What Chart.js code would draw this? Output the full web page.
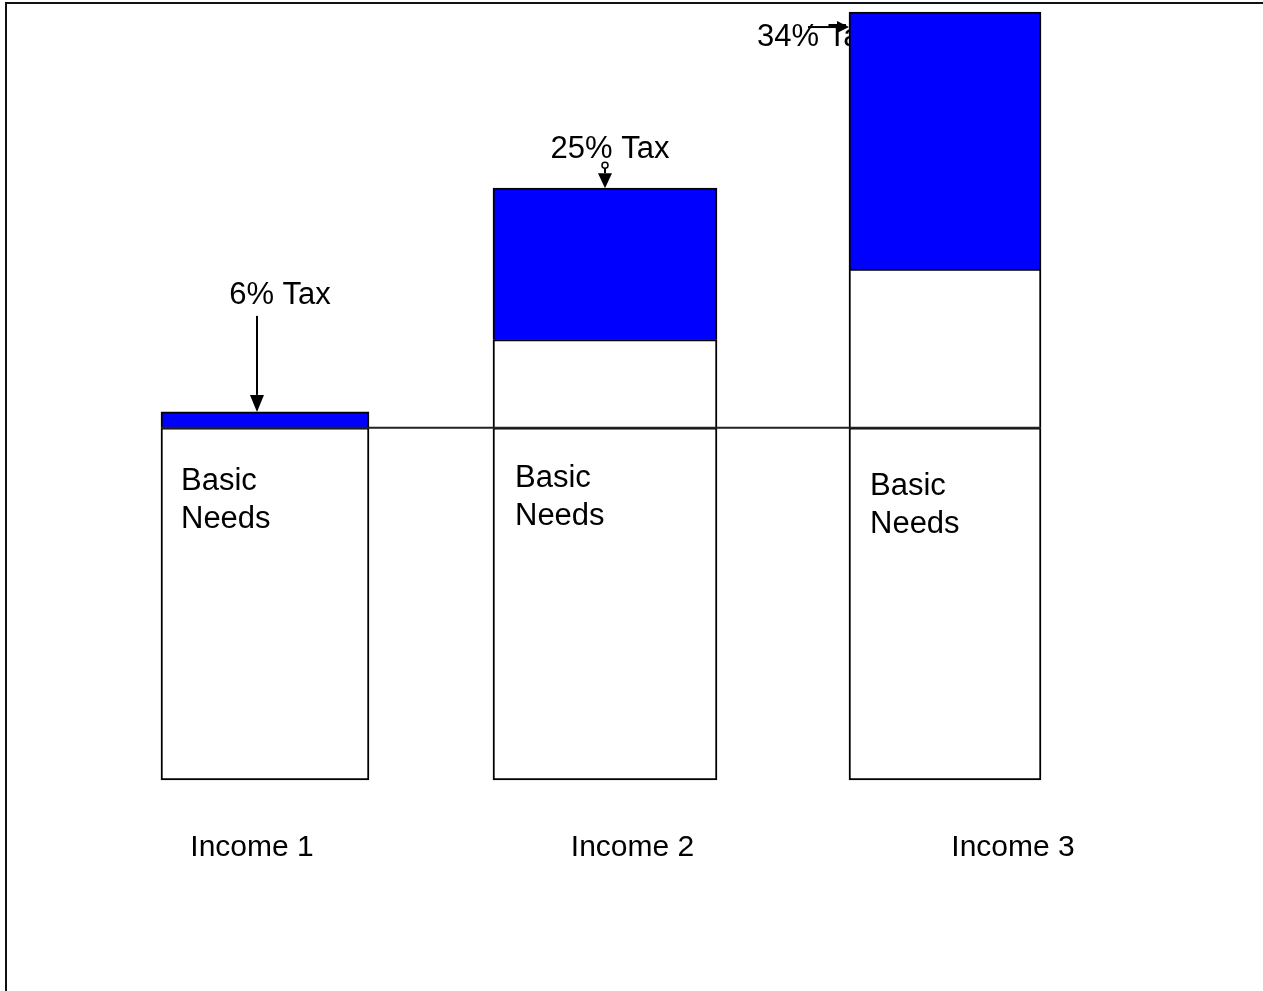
<!DOCTYPE html>
<html>
<head>
<meta charset="utf-8">
<script src="https://cdn.jsdelivr.net/npm/chart.js@4.4.0/dist/chart.umd.min.js"></script>
<style>
  body { margin: 0; background: #fff; overflow: hidden; }
  #wrap { position: relative; width: 1263px; height: 991px; }
  #frame { position: absolute; left: 5px; top: 2px; right: 0; bottom: 0;
           border-left: 2px solid #111; border-top: 2px solid #111; pointer-events: none; }
  canvas { position: absolute; left: 0; top: 0; }
</style>
</head>
<body>
<div id="wrap">
  <canvas id="taxChart" width="1263" height="991"></canvas>
  <div id="frame"></div>
</div>
<script>
const categories = ['Income 1', 'Income 2', 'Income 3'];
const basicNeeds = [100, 100, 100];
const otherSpending = [0, 25, 45];
const taxes = [4.5, 43, 73];
const taxLabels = ['6% Tax', '25% Tax', '34% Tax'];

const barWidths = [208, 224, 192];
const FONT = '"Liberation Sans", Arial, Helvetica, sans-serif';

// one dataset per segment so every bar can have its own width
const datasets = [];
categories.forEach((cat, i) => {
  const segs = [
    { kind: 'basic', value: basicNeeds[i], color: '#ffffff', skip: false },
    { kind: 'other', value: otherSpending[i], color: '#ffffff', skip: 'start' },
    { kind: 'tax', value: taxes[i], color: '#0000ff', skip: 'start' }
  ];
  segs.forEach(s => {
    if (!s.value) return;
    datasets.push({
      label: cat + ' ' + s.kind,
      kind: s.kind,
      bar: i,
      data: [{ x: i + 1, y: s.value }],
      xAxisID: 'xb',
      backgroundColor: s.color,
      borderColor: '#000',
      borderWidth: 2,
      borderSkipped: s.skip,
      barThickness: barWidths[i],
      clip: false
    });
  });
});

function findBar(chart, kind, i) {
  for (let k = 0; k < chart.data.datasets.length; k++) {
    const ds = chart.data.datasets[k];
    if (ds.kind === kind && ds.bar === i) {
      return chart.getDatasetMeta(k).data[0].getProps(['x', 'y', 'base', 'width'], true);
    }
  }
  return null;
}

function arrow(ctx, x1, y1, x2, y2, len, half) {
  const ang = Math.atan2(y2 - y1, x2 - x1);
  const bx = x2 - len * Math.cos(ang), by = y2 - len * Math.sin(ang);
  ctx.beginPath();
  ctx.moveTo(x1, y1);
  ctx.lineTo(bx, by);
  ctx.stroke();
  ctx.beginPath();
  ctx.moveTo(x2, y2);
  ctx.lineTo(bx + half * Math.sin(ang), by - half * Math.cos(ang));
  ctx.lineTo(bx - half * Math.sin(ang), by + half * Math.cos(ang));
  ctx.closePath();
  ctx.fill();
}

const annotations = {
  id: 'annotations',
  beforeDatasetsDraw(chart) {
    // third label sits behind the tallest bar
    const ctx = chart.ctx;
    const t3 = findBar(chart, 'tax', 2);
    ctx.save();
    ctx.fillStyle = '#000';
    ctx.font = '31px ' + FONT;
    ctx.textAlign = 'left';
    ctx.textBaseline = 'alphabetic';
    ctx.fillText(taxLabels[2], t3.x - t3.width / 2 - 92, t3.y + 34);
    ctx.restore();
  },
  afterDatasetsDraw(chart) {
    const ctx = chart.ctx;
    const yScale = chart.scales.y;
    ctx.save();
    ctx.fillStyle = '#000';
    ctx.strokeStyle = '#000';
    ctx.lineWidth = 2;

    // basic needs level line across all bars
    const first = findBar(chart, 'basic', 0);
    const last = findBar(chart, 'basic', categories.length - 1);
    const lvl = yScale.getPixelForValue(basicNeeds[0]);
    ctx.strokeStyle = '#222';
    ctx.beginPath();
    ctx.moveTo(first.x - first.width / 2, lvl);
    ctx.lineTo(last.x + last.width / 2, lvl);
    ctx.stroke();
    ctx.strokeStyle = '#000';

    // "Basic Needs" inside each bar
    ctx.font = '31px ' + FONT;
    ctx.textAlign = 'left';
    ctx.textBaseline = 'alphabetic';
    const dy = [62, 59, 67];
    const dx = [20, 22, 21];
    categories.forEach((c, i) => {
      const b = findBar(chart, 'basic', i);
      const left = b.x - b.width / 2 + dx[i];
      ctx.fillText('Basic', left, b.y + dy[i]);
      ctx.fillText('Needs', left, b.y + dy[i] + 38);
    });

    // tax labels and arrows
    ctx.textAlign = 'center';
    const t1 = findBar(chart, 'tax', 0);
    ctx.fillText(taxLabels[0], t1.x + 15, t1.y - 108);
    arrow(ctx, t1.x - 8, t1.y - 96, t1.x - 8, t1.y, 17, 7);

    const t2 = findBar(chart, 'tax', 1);
    ctx.fillText(taxLabels[1], t2.x + 5, t2.y - 30);
    ctx.beginPath();
    ctx.arc(t2.x, t2.y - 23, 3, 0, Math.PI * 2);
    ctx.lineWidth = 1.5;
    ctx.stroke();
    ctx.lineWidth = 2;
    arrow(ctx, t2.x, t2.y - 20, t2.x, t2.y, 15, 7);

    const t3 = findBar(chart, 'tax', 2);
    const l3 = t3.x - t3.width / 2;
    arrow(ctx, l3 - 41, t3.y + 15, l3, t3.y + 15, 12, 6);
    ctx.restore();
  }
};

new Chart(document.getElementById('taxChart'), {
  type: 'bar',
  data: { labels: categories, datasets: datasets },
  options: {
    responsive: false,
    animation: false,
    devicePixelRatio: 1,
    layout: { padding: { left: 252, right: 250, top: 5, bottom: 75 } },
    plugins: { legend: { display: false }, tooltip: { enabled: false } },
    scales: {
      x: {
        type: 'category',
        offset: false,
        grid: { display: false, drawTicks: false },
        border: { display: false },
        ticks: { color: '#000', padding: 50, font: { family: FONT, size: 30 } }
      },
      xb: {
        type: 'linear',
        display: false,
        stacked: true,
        offset: false,
        min: 0.9618,
        max: 3.2
      },
      y: {
        display: false,
        stacked: true,
        min: 0,
        max: 220
      }
    }
  },
  plugins: [annotations]
});
</script>
</body>
</html>
